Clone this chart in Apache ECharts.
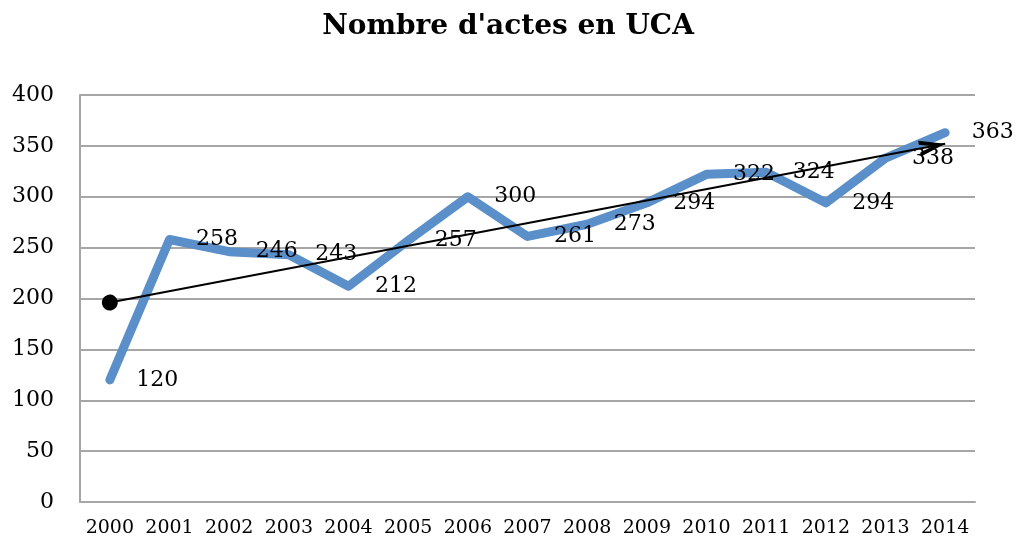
<!DOCTYPE html>
<html>
<head>
<meta charset="utf-8">
<script src="https://cdn.jsdelivr.net/npm/echarts@6/dist/echarts.min.js"></script>
<style>
  html, body { margin: 0; padding: 0; background: #fff; }
  #main { width: 1016px; height: 539px; }
</style>
</head>
<body>
<div id="main"></div>
<script>
const years = ['2000', '2001', '2002', '2003', '2004', '2005', '2006', '2007',
    '2008', '2009', '2010', '2011', '2012', '2013', '2014'];
const actes = [120, 258, 246, 243, 212, 257, 300, 261, 273, 294, 322, 324, 294, 338, 363];
// trend arrow, start and end
const trendStart = ['2000', 196];
const trendEnd = ['2014', 352];

const serif = 'DejaVu Serif';
const chart = echarts.init(document.getElementById('main'));

// open chevron head
const arrowHead = 'path://M0,14 L12,0 L24,14 L18,14 L12,7 L6,14 Z';

chart.setOption({
    animation: false,
    title: {
        text: "Nombre d'actes en UCA",
        left: 'center',
        top: 8,
        textStyle: {
            fontFamily: serif,
            fontWeight: 'bold',
            fontSize: 28,
            color: '#000'
        }
    },
    grid: { left: 80, right: 41, top: 95, bottom: 37 },
    xAxis: {
        type: 'category',
        data: years,
        boundaryGap: true,
        axisLine: { lineStyle: { color: '#a6a6a6', width: 2 } },
        axisTick: { show: false },
        axisLabel: { interval: 0, fontFamily: serif, fontSize: 19, color: '#000', margin: 17 }
    },
    yAxis: {
        type: 'value',
        min: 0,
        max: 400,
        interval: 50,
        axisLine: { show: true, lineStyle: { color: '#a6a6a6', width: 2 } },
        axisTick: { show: false },
        splitLine: { lineStyle: { color: '#a6a6a6', width: 2 } },
        axisLabel: { fontFamily: serif, fontSize: 22, color: '#000', margin: 26 }
    },
    series: [{
        type: 'line',
        data: actes,
        showSymbol: true,
        symbol: 'circle',
        symbolSize: 1,
        itemStyle: { color: 'rgba(0,0,0,0)' },
        lineStyle: { color: '#5b8fc9', width: 9, cap: 'round', join: 'round' },
        label: {
            show: true,
            position: 'right',
            distance: 26,
            offset: [0, 3],
            fontFamily: serif,
            fontSize: 22,
            color: '#000'
        },
        labelLayout: { hideOverlap: false },
        z: 2
    }, {
        type: 'line',
        data: [],
        z: 3,
        markLine: {
            silent: true,
            symbol: ['circle', arrowHead],
            symbolSize: [16, 26],
            symbolOffset: [0, [0, 13]],
            label: { show: false },
            itemStyle: { color: '#000' },
            lineStyle: { color: '#000', width: 2, type: 'solid' },
            data: [[{ coord: trendStart }, { coord: trendEnd }]]
        }
    }]
});
</script>
</body>
</html>
